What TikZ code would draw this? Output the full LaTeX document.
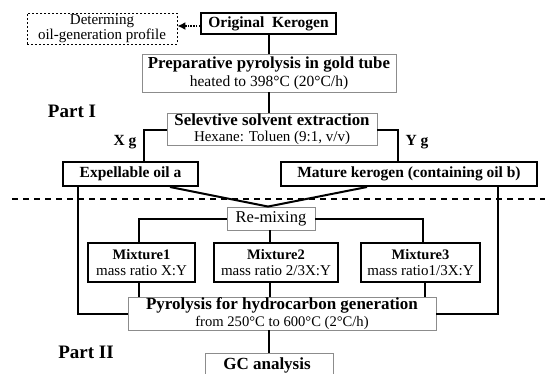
\documentclass[tikz,border=0pt]{standalone}
\usepackage{fontspec}
\setmainfont{Liberation Serif}
\usetikzlibrary{calc,arrows.meta}
\newcommand{\fsz}[1]{\fontsize{#1}{#1}\selectfont}
\begin{document}
\begin{tikzpicture}[x=1pt,y=-1pt,
  tbox/.style={draw=black,line width=2pt,inner sep=0pt,align=center,font=\fontsize{15}{16.5}\selectfont},
  gbox/.style={draw=black!45,line width=0.9pt,fill=white,inner sep=0pt,align=center,font=\fontsize{15}{17}\selectfont},
  conn/.style={line width=2pt},
  plabel/.style={font=\bfseries\fontsize{19}{22}\selectfont},
  wlabel/.style={font=\bfseries\fontsize{15.5}{17}\selectfont},
]
\useasboundingbox (0,0) rectangle (545,373);
% top part
\node[tbox,minimum width=135pt,minimum height=21pt,font=\bfseries\fsz{15.5}] (ker) at (268.5,23.5) {Original\ \ Kerogen};
\node[draw=black,line width=0.8pt,dash pattern=on 2pt off 2pt,inner sep=0pt,align=center,
      minimum width=150pt,minimum height=31pt,font=\fontsize{15}{15.5}\selectfont] (det) at (102,28.5)
      {Determing\\oil-generation profile};
\coordinate (ka) at ($(ker.west)+(0,2.5)$);
\draw[line width=1.5pt,dash pattern=on 1.5pt off 1.2pt,-{Latex[length=8pt,width=8pt]}] (ka) -- (ka -| det.east);
\node[gbox,minimum width=254pt,minimum height=38pt] (prep) at (269,73)
      {{\bfseries\fsz{16.8}Preparative pyrolysis in gold tube}\\[1pt]{\fsz{15.5}heated to 398°C (20°C/h)}};
\node[gbox,minimum width=210pt,minimum height=29pt] (sel) at (272,129.5)
      {{\bfseries\fsz{16.8}Selevtive solvent extraction}\\[-0.5pt]Hexane: Toluen (9:1, v/v)};
\node[tbox,minimum width=135pt,minimum height=24pt,font=\bfseries\fsz{15.5}] (exp) at (130.5,174) {Expellable oil a};
\node[tbox,minimum width=256pt,minimum height=24pt,font=\bfseries\fsz{15.5}] (mat) at (409,174) {Mature kerogen (containing oil b)};
\node[plabel] (p1) at (72,111) {Part I};
\node[wlabel,anchor=east] (xg) at (140,142) {X g};
\node[wlabel,anchor=west] (yg) at (402,142) {Y g};
\draw[conn] (ker.south) -- (ker.south |- prep.north);
\draw[conn] (prep.south -| ker.south) -- (sel.north -| ker.south);
\draw[conn] (sel.west) -| ($(exp.north)+(13.5,0)$);
\draw[conn] (sel.east) -| ($(mat.north)+(-11,0)$);
% separator
\coordinate (dl) at (12,199);
\coordinate (dr) at (545,199);
\draw[line width=2pt,dash pattern=on 6pt off 5pt] (dl) -- (dr);
% part II
\node[gbox,minimum width=88pt,minimum height=23pt,font=\fsz{16.5}] (rem) at (271,218.5) {Re-mixing};
\coordinate (v) at ($(rem.north)+(-3,0)$);
\draw[conn] ($(exp.south)+(39.5,0)$) -- (v);
\draw[conn] ($(mat.south)+(-42,0)$) -- (v);
\node[tbox,minimum width=107pt,minimum height=39pt] (m1) at (141.5,262.5) {{\bfseries\fsz{14.5}Mixture1}\\mass ratio X:Y};
\node[tbox,minimum width=124pt,minimum height=39pt] (m2) at (276,262.5) {{\bfseries\fsz{14.5}Mixture2}\\mass ratio 2/3X:Y};
\node[tbox,minimum width=119pt,minimum height=39pt] (m3) at (420.5,262.5) {{\bfseries\fsz{14.5}Mixture3}\\mass ratio1/3X:Y};
\draw[conn] (rem.west) -| ($(m1.north)+(-2.5,0)$);
\draw[conn] (rem.east) -| ($(m3.north)+(2.5,0)$);
\draw[conn] ($(rem.south)+(-1,0)$) -- ($(m2.north -| rem.south)+(-1,0)$);
\node[gbox,minimum width=308pt,minimum height=33pt] (pyr) at (282,313.5)
      {{\bfseries\fsz{17}Pyrolysis for hydrocarbon generation}\\[-0.5pt]{\fsz{14.6}from 250°C to 600°C (2°C/h)}};
\draw[conn] ($(m1.south)+(-2.5,0)$) -- ($(m1.south |- pyr.north)+(-2.5,0)$);
\draw[conn] ($(m2.south)+(-6,0)$) -- ($(m2.south |- pyr.north)+(-6,0)$);
\draw[conn] ($(m3.south)+(4.5,0)$) -- ($(m3.south |- pyr.north)+(4.5,0)$);
\draw[conn] ($(exp.south)+(-52.5,0)$) |- (pyr.west);
\draw[conn] ($(mat.south)+(89,0)$) |- (pyr.east);
\node[gbox,minimum width=128pt,minimum height=34pt,anchor=north] (gc) at (269,352.5) {};
\node[font=\bfseries\fsz{17},anchor=base] (gct) at (267,369) {GC analysis};
\draw[conn] ($(pyr.south)+(-13,0)$) -- (gc.north);
\node[plabel] (p2) at (86,352) {Part II};
\end{tikzpicture}
\end{document}
